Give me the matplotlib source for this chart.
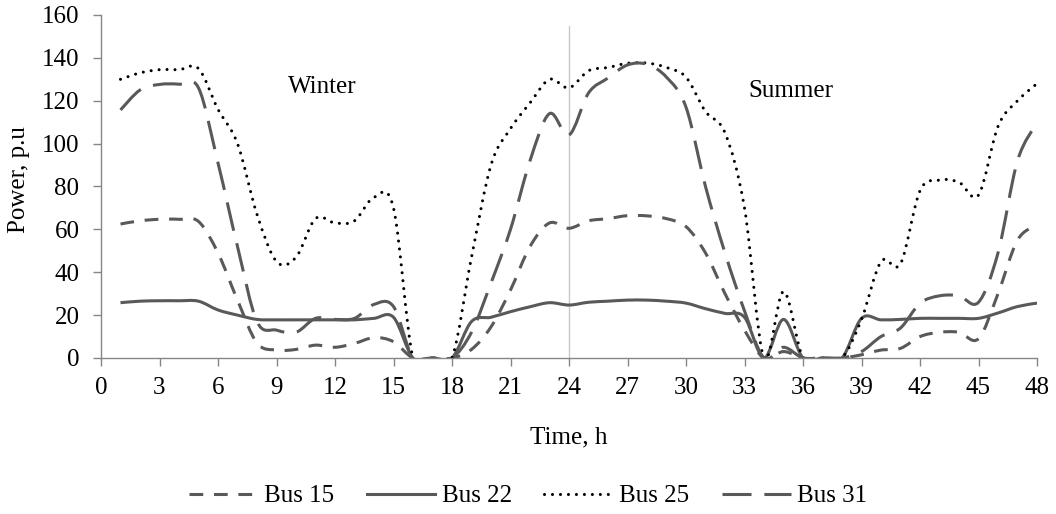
import numpy as np
import matplotlib
matplotlib.use("Agg")
import matplotlib.pyplot as plt
from matplotlib.path import Path
from matplotlib.patches import PathPatch
from matplotlib.lines import Line2D

plt.rcParams['font.family'] = ['Liberation Serif', 'DejaVu Serif']

# data (hours 1..48)
hours = list(range(1, 49))
bus15 = [62.5, 64, 64.7, 64.7, 63.7, 49, 27, 7, 3.7, 4, 6, 5, 6.8, 9.5, 7.6, 0,
         0, 0, 4, 14.5, 31.7, 52, 63, 60.5, 64, 65, 66.4, 66.3, 65, 61.3, 49, 30,
         13, 0, 3, 0, 0, 0, 1.5, 3.7, 4.5, 10, 12, 12, 9, 30, 55, 62]
bus22 = [25.8, 26.5, 26.7, 26.7, 26.5, 22.4, 20, 18, 17.8, 17.8, 17.8, 17.8, 17.8, 18.5, 19, 0,
         0, 0, 17, 19, 21.6, 23.9, 25.8, 24.7, 26, 26.5, 27, 27, 26.5, 25.6, 23, 20.8,
         19, 0, 18, 0, 0, 0, 18.5, 17.8, 18, 18.5, 18.5, 18.5, 18.5, 21, 24, 25.6]
bus25 = [130, 133, 134.5, 134.5, 135, 116, 100, 67, 45, 47, 65, 63, 64, 75, 70, 0,
         0, 0, 47, 90, 107, 119, 130, 126, 134, 135.5, 137.5, 137.6, 135.5, 131, 115, 105,
         70, 0, 31, 0, 0, 0, 18, 45, 44, 78, 83, 82, 76, 108, 120, 128]
bus31 = [115.7, 125, 127.6, 127.7, 126, 91, 52, 17, 13, 12, 18.5, 18, 18.5, 25, 24, 0,
         0, 0, 12, 35, 60, 92, 114, 104, 123.6, 130.6, 136.7, 137, 131, 117, 80, 49,
         22, 0, 5, 0, 0, 0, 3, 10, 14, 25.5, 29, 29, 26, 49, 92, 109.6]

names = ["Bus 15", "Bus 22", "Bus 25", "Bus 31"]
gray = "#595959"
fs = 18


def smooth_path(xs, ys):
    # cubic bezier through the points (like Excel's smoothed line)
    pts = np.column_stack([xs, ys]).astype(float)
    n = len(pts)
    verts = [pts[0]]
    codes = [Path.MOVETO]
    for i in range(n - 1):
        p0 = pts[i - 1] if i > 0 else pts[i]
        p1 = pts[i]
        p2 = pts[i + 1]
        p3 = pts[i + 2] if i + 2 < n else pts[i + 1]
        c1 = p1 + (p2 - p0) / 6.0
        c2 = p2 - (p3 - p1) / 6.0
        verts += [c1, c2, p2]
        codes += [Path.CURVE4] * 3
    return Path(verts, codes)


styles = [
    dict(color=gray, ls=(0, (4.5, 3.5)), cap="butt"),
    dict(color=gray, ls="-", cap="butt"),
    dict(color="black", ls=(0, (0.01, 2.6)), cap="round"),
    dict(color=gray, ls=(0, (9.5, 4.2)), cap="butt"),
]
lw = 2.2

fig = plt.figure(figsize=(10.56, 5.14), dpi=100)
ax = fig.add_axes([101 / 1056, 1 - 358 / 514, 936 / 1056, 343 / 514])

handles = []
for series, name, st in zip([bus15, bus22, bus25, bus31], names, styles):
    patch = PathPatch(smooth_path(hours, series), fill=False, edgecolor=st["color"],
                      lw=lw, linestyle=st["ls"], capstyle=st["cap"], joinstyle="round")
    ax.add_patch(patch)
    h = Line2D([], [], color=st["color"], lw=lw, linestyle=st["ls"],
               dash_capstyle=st["cap"], label=name)
    handles.append(h)

# winter / summer separator
ax.plot([24, 24], [0, 155], color="#c8c8c8", lw=1, zorder=0)

ax.text(11.33, 123.6, "Winter", fontsize=fs, ha="center", va="baseline")
ax.text(35.38, 121.7, "Summer", fontsize=fs, ha="center", va="baseline")

ax.set_xlim(0, 48)
ax.set_ylim(0, 160)
ax.set_xticks(np.arange(0, 49, 3))
ax.set_yticks(np.arange(0, 161, 20))
for s in ["top", "right"]:
    ax.spines[s].set_visible(False)
for s in ["left", "bottom"]:
    ax.spines[s].set_color("#868686")
    ax.spines[s].set_linewidth(1)
ax.tick_params(axis="both", direction="out", length=5.5, width=1, color="#868686",
               labelsize=fs, labelcolor="black")
ax.tick_params(axis="x", pad=8)
ax.tick_params(axis="y", pad=10)

ax.set_xlabel("Time, h", fontsize=fs)
ax.set_ylabel("Power, p.u", fontsize=fs)
ax.xaxis.set_label_coords(0.5, (358 - 443) / 343)
ax.xaxis.label.set_va("baseline")
ax.yaxis.set_label_coords((19 - 101) / 936, 0.519)
ax.yaxis.label.set_va("center")

fig.legend(handles=handles, loc="center", bbox_to_anchor=(0.5, 1 - 496 / 514), ncol=4,
           frameon=False, fontsize=fs, handlelength=2.75, handletextpad=0.25,
           columnspacing=1.3)

fig.savefig("out.png", dpi=100)
